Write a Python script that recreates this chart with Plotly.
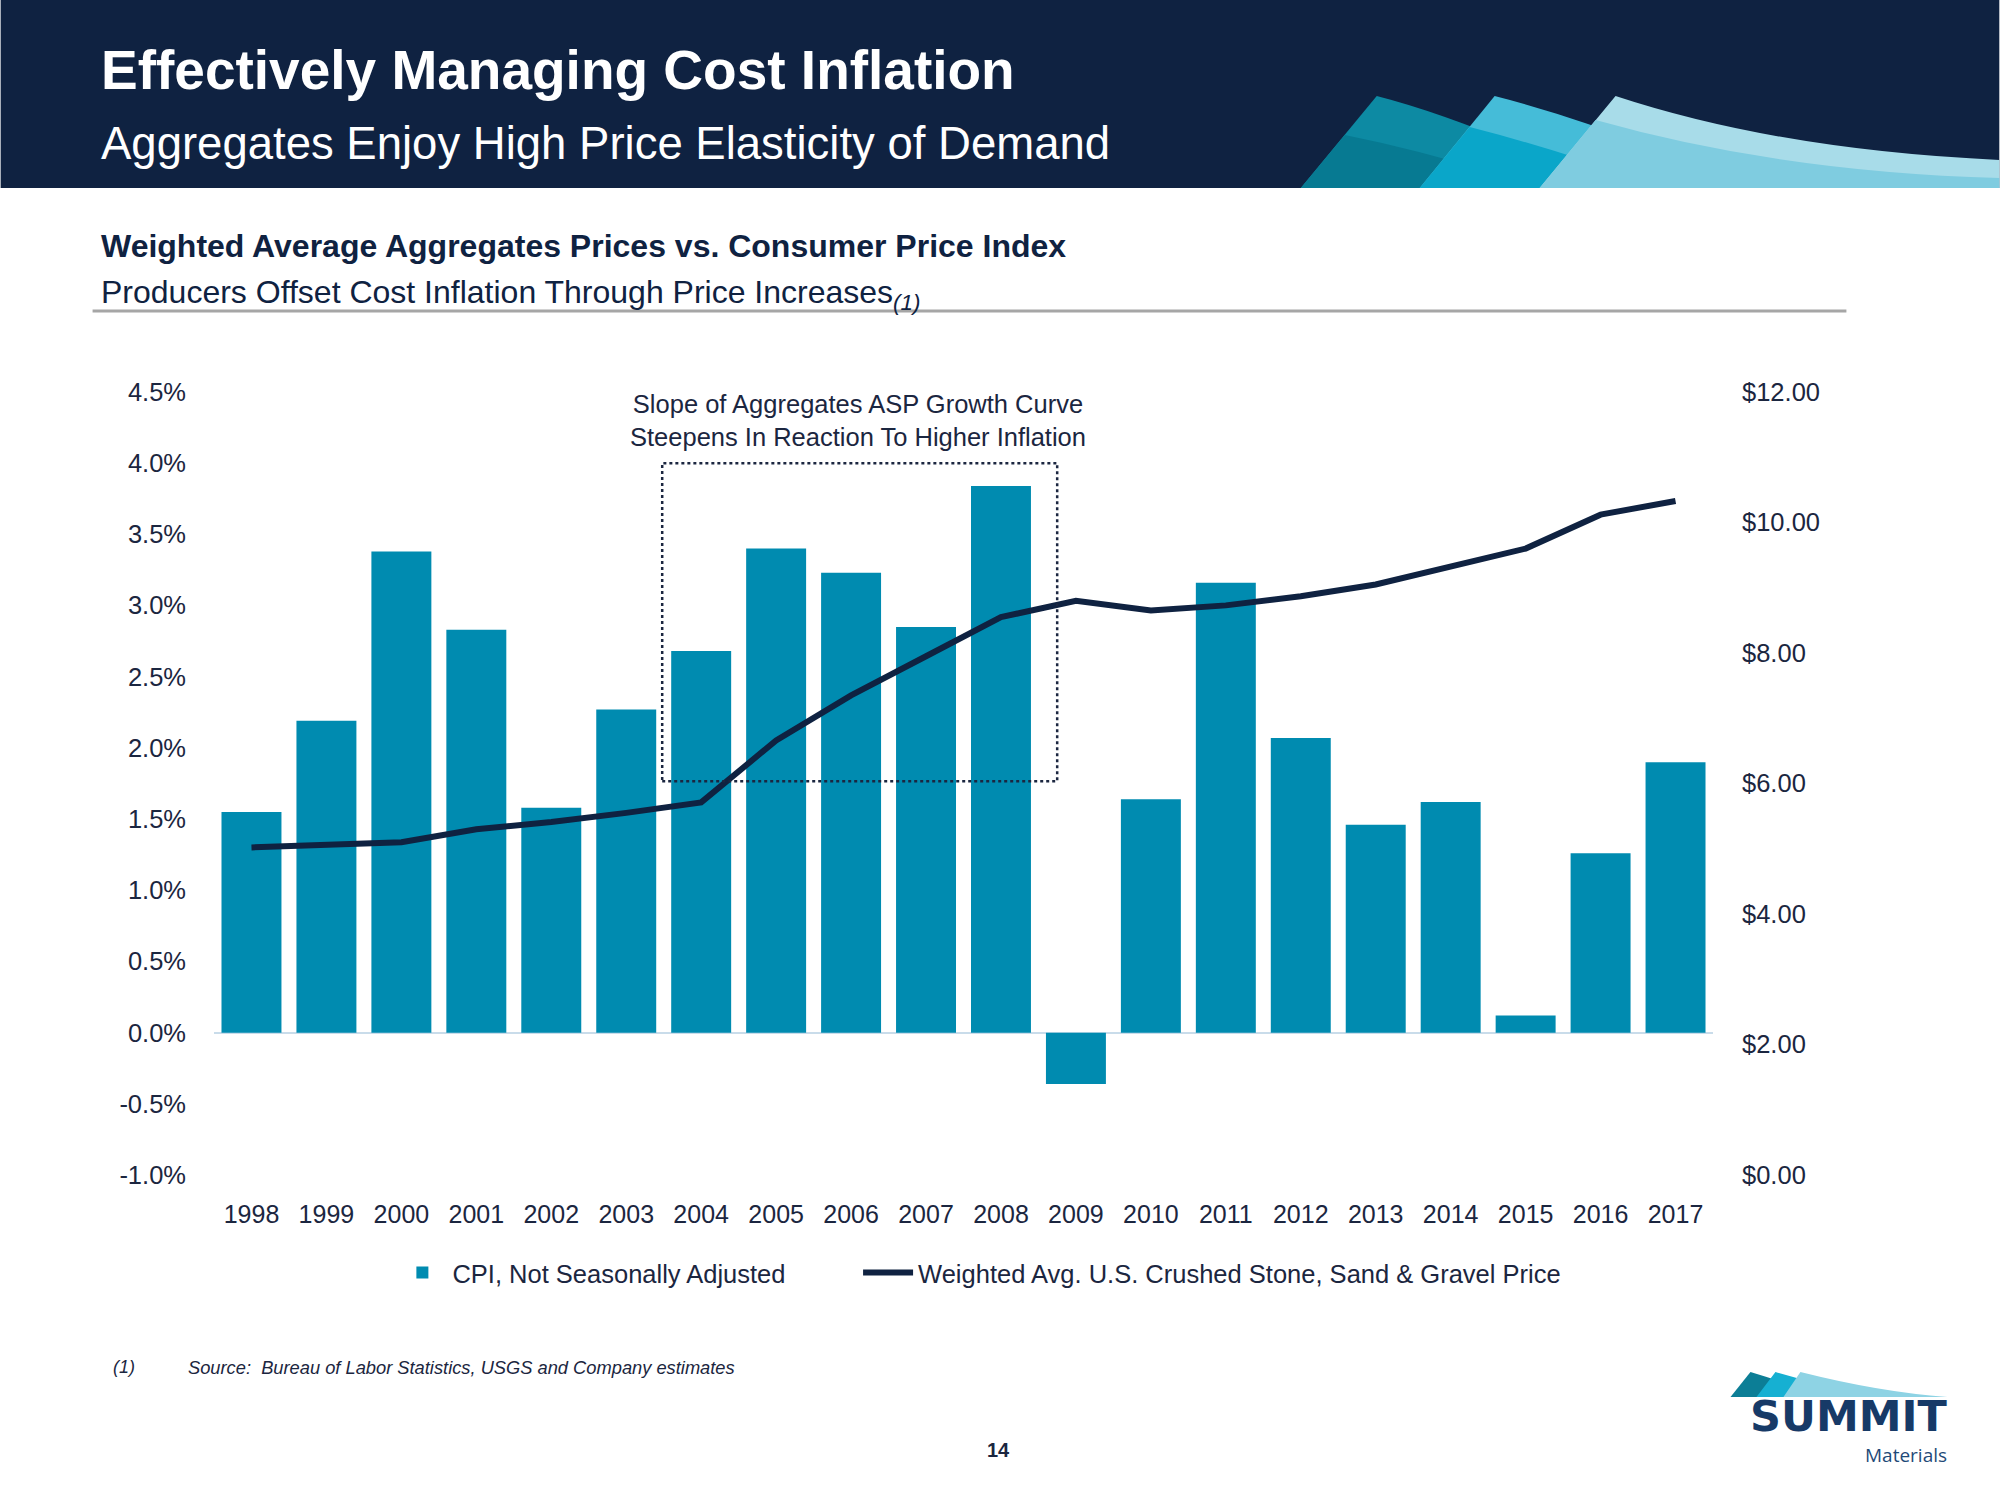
import plotly.graph_objects as go

# ---------------- data ----------------
years = ["1998", "1999", "2000", "2001", "2002", "2003", "2004", "2005", "2006", "2007",
         "2008", "2009", "2010", "2011", "2012", "2013", "2014", "2015", "2016", "2017"]
cpi_pct = [1.55, 2.19, 3.38, 2.83, 1.58, 2.27, 2.68, 3.40, 3.23, 2.85,
           3.84, -0.36, 1.64, 3.16, 2.07, 1.46, 1.62, 0.12, 1.26, 1.90]
agg_price = [5.02, 5.06, 5.10, 5.30, 5.41, 5.55, 5.71, 6.66, 7.35, 7.95,
             8.55, 8.80, 8.65, 8.73, 8.87, 9.05, 9.33, 9.60, 10.12, 10.33]
left_ticks = [-1.0, -0.5, 0.0, 0.5, 1.0, 1.5, 2.0, 2.5, 3.0, 3.5, 4.0, 4.5]
left_labels = ["-1.0%", "-0.5%", "0.0%", "0.5%", "1.0%", "1.5%", "2.0%", "2.5%",
               "3.0%", "3.5%", "4.0%", "4.5%"]
right_ticks = [0, 2, 4, 6, 8, 10, 12]
right_labels = ["$0.00", "$2.00", "$4.00", "$6.00", "$8.00", "$10.00", "$12.00"]
bar_name = "CPI, Not Seasonally Adjusted"
line_name = "Weighted Avg. U.S. Crushed Stone, Sand & Gravel Price"

# ---------------- style ----------------
W, H = 2000, 1500
L, R, T, B = 213.5, 286.5, 392, 325
PW, PH = W - L - R, H - T - B
NAVY = "#0F2241"
TEXT = "#1B2640"
BAR = "#008BB0"
FONT = "Liberation Sans, Arial, sans-serif"


def px(x):
    return (x - L) / PW


def py(y):
    return 1 - (y - T) / PH


def path(cmds):
    out = []
    for c in cmds:
        op, pts = c[0], c[1:]
        s = op
        for (x, y) in pts:
            s += f" {px(x):.5f},{py(y):.5f}"
        out.append(s)
    return " ".join(out) + " Z"


fig = go.Figure()
fig.add_bar(x=years, y=cpi_pct, name=bar_name, marker_color=BAR, marker_line_width=0,
            legend="legend")
fig.add_scatter(x=years, y=agg_price, name=line_name, yaxis="y2", mode="lines",
                line=dict(color=NAVY, width=6), legend="legend2")

shapes = []
# header band
shapes.append(dict(type="rect", xref="paper", yref="paper", x0=px(0), x1=px(W), y0=py(0), y1=py(188),
                   fillcolor=NAVY, line_width=0, layer="above"))
# sails in header
sails = [
    ([("M", (1301, 188)), ("L", (1377, 96)), ("Q", (1440, 112), (1530, 150)), ("L", (1500, 188))], "#0D8AA3"),
    ([("M", (1301, 188)), ("L", (1345, 135)), ("Q", (1420, 150), (1500, 175)), ("L", (1490, 188))], "#077A92"),
    ([("M", (1420, 188)), ("L", (1495, 96)), ("Q", (1570, 115), (1660, 150)), ("L", (1620, 188))], "#45BCD8"),
    ([("M", (1420, 188)), ("L", (1470, 127)), ("Q", (1560, 150), (1640, 180)), ("L", (1620, 188))], "#0AA6C9"),
    ([("M", (1540, 188)), ("L", (1616, 96)), ("Q", (1780, 150), (2000, 160)), ("L", (2000, 188))], "#A8DCE9"),
    ([("M", (1540, 188)), ("L", (1596, 120)), ("Q", (1780, 172), (2000, 178)), ("L", (2000, 188))], "#7FCCE0"),
]
for p, col in sails:
    shapes.append(dict(type="path", xref="paper", yref="paper", path=path(p),
                       fillcolor=col, line_width=0, layer="above"))
# gray rule under section title
shapes.append(dict(type="line", xref="paper", yref="paper", x0=px(92), x1=px(1847), y0=py(311), y1=py(311),
                   line=dict(color="#A6A6A6", width=3)))
# dotted box in data coords
shapes.append(dict(type="rect", xref="x", yref="y", x0=5.48, x1=10.75, y0=1.765, y1=4.0,
                   line=dict(color="#1B2640", width=2.5, dash="dot"), fillcolor="rgba(0,0,0,0)",
                   layer="above"))
# logo sails
logo_sails = [
    ([("M", (1731, 1397)), ("L", (1751, 1372)), ("Q", (1790, 1384), (1830, 1397))], "#0C7E96"),
    ([("M", (1757, 1397)), ("L", (1776, 1372)), ("Q", (1830, 1388), (1880, 1397))], "#16B0D2"),
    ([("M", (1784, 1397)), ("L", (1801, 1372)), ("Q", (1880, 1392), (1948, 1397))], "#8ED3E4"),
]
for p, col in logo_sails:
    shapes.append(dict(type="path", xref="paper", yref="paper", path=path(p),
                       fillcolor=col, line_width=0, layer="above"))

ann = []


def text(x, y, s, size, color=TEXT, family=FONT, xanchor="left", yanchor="middle", align="left"):
    ann.append(dict(x=px(x), y=py(y), xref="paper", yref="paper", text=s, showarrow=False,
                    xanchor=xanchor, yanchor=yanchor, align=align,
                    font=dict(size=size, color=color, family=family)))


text(98, 70, "<b>Effectively Managing Cost Inflation</b>", 55, color="white")
text(98, 144, "Aggregates Enjoy High Price Elasticity of Demand", 45.5, color="white")
text(98, 246, "<b>Weighted Average Aggregates Prices vs. Consumer Price Index</b>", 32, color=NAVY)
text(98, 294, "Producers Offset Cost Inflation Through Price Increases<sub><i>(1)</i></sub>", 32, color=NAVY)
text(858, 421, "Slope of Aggregates ASP Growth Curve<br>Steepens In Reaction To Higher Inflation", 25.5,
     xanchor="center", align="center")
text(110, 1367, "<i>(1)</i>", 18)
text(185, 1367, "<i>Source:  Bureau of Labor Statistics, USGS and Company estimates</i>", 18.3)
text(999, 1450, "<b>14</b>", 20, xanchor="center")
text(1950, 1416, "<b>SUMMIT</b>", 43, color="#173A67", family="DejaVu Sans, sans-serif", xanchor="right")
text(1950, 1455, "Materials", 19, color="#1F4A78", family="Open Sans, sans-serif", xanchor="right")

legend_common = dict(orientation="h", yanchor="middle", y=py(1273), xanchor="left",
                     font=dict(size=25.5, color=TEXT, family=FONT), itemwidth=50,
                     bgcolor="rgba(0,0,0,0)")

fig.update_layout(
    width=W, height=H, autosize=False,
    margin=dict(l=L, r=R, t=T, b=B, pad=0),
    paper_bgcolor="white", plot_bgcolor="white",
    bargap=0.2,
    showlegend=True,
    legend=dict(x=px(392), **legend_common),
    legend2=dict(x=px(858), **legend_common),
    xaxis=dict(type="category", showgrid=False, showline=False, ticks="", zeroline=False,
               tickfont=dict(size=25, color=TEXT, family=FONT), ticklabelstandoff=22,
               range=[-0.5, 19.5]),
    yaxis=dict(range=[-1, 4.5], tickvals=left_ticks, ticktext=left_labels, showgrid=False,
               showline=False, ticks="", zeroline=True, zerolinecolor="#C9DCEA", zerolinewidth=2,
               tickfont=dict(size=25.5, color=TEXT, family=FONT), ticklabelstandoff=27),
    yaxis2=dict(range=[0, 12], tickvals=right_ticks, ticktext=right_labels, overlaying="y",
                side="right", showgrid=False, showline=False, ticks="", zeroline=False,
                tickfont=dict(size=25.5, color=TEXT, family=FONT), ticklabelstandoff=28),
    shapes=shapes,
    annotations=ann,
)

fig.write_html("out.html", config={"displayModeBar": False},
               post_script="document.body.style.margin='0';document.body.style.overflow='hidden';")
